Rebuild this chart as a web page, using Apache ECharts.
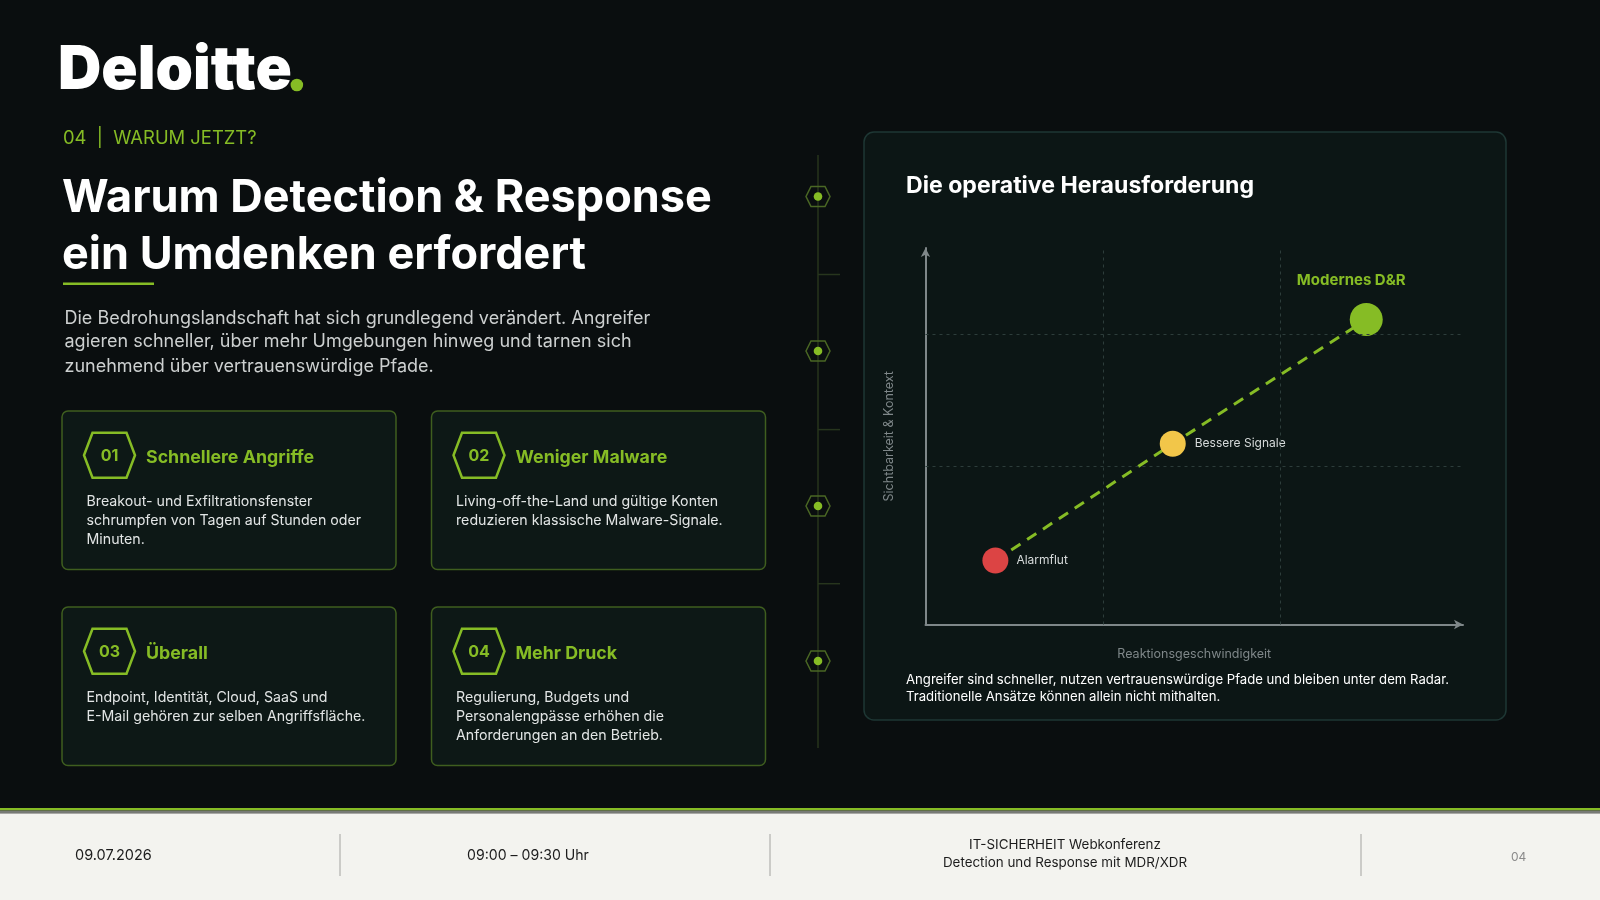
<!DOCTYPE html>
<html><head><meta charset="utf-8">
<script src="https://cdn.jsdelivr.net/npm/echarts@6/dist/echarts.min.js"></script>
<style>html,body{margin:0;padding:0;background:#0a0e0f;}#c{width:1600px;height:900px;}</style>
</head><body><div id="c"></div>
<script>
// ---- chart data ----
const pointNames = ['Alarmflut', 'Bessere Signale', 'Modernes D&R'];
const speedValues = [13, 46, 82];        // Reaktionsgeschwindigkeit (0-100)
const visibilityValues = [17, 48, 81];   // Sichtbarkeit & Kontext (0-100)
const gridXValues = [33, 66];
const gridYValues = [42, 77];
const axisMin = 0;
const axisMax = 100;
const xAxisName = 'Reaktionsgeschwindigkeit';
const yAxisName = 'Sichtbarkeit & Kontext';

// ---- slide texts ----
const sectionLabel = '04  |  WARUM JETZT?';
const titleLines = ['Warum Detection & Response', 'ein Umdenken erfordert'];
const introLines = [
  'Die Bedrohungslandschaft hat sich grundlegend verändert. Angreifer',
  'agieren schneller, über mehr Umgebungen hinweg und tarnen sich',
  'zunehmend über vertrauenswürdige Pfade.'
];
const cardNumbers = ['01', '02', '03', '04'];
const cardTitles = ['Schnellere Angriffe', 'Weniger Malware', 'Überall', 'Mehr Druck'];
const cardTexts = [
  ['Breakout- und Exfiltrationsfenster', 'schrumpfen von Tagen auf Stunden oder', 'Minuten.'],
  ['Living-off-the-Land und gültige Konten', 'reduzieren klassische Malware-Signale.'],
  ['Endpoint, Identität, Cloud, SaaS und', 'E-Mail gehören zur selben Angriffsfläche.'],
  ['Regulierung, Budgets und', 'Personalengpässe erhöhen die', 'Anforderungen an den Betrieb.']
];
const panelTitle = 'Die operative Herausforderung';
const captionLines = [
  'Angreifer sind schneller, nutzen vertrauenswürdige Pfade und bleiben unter dem Radar.',
  'Traditionelle Ansätze können allein nicht mithalten.'
];
const footerDate = '09.07.2026';
const footerTime = '09:00 – 09:30 Uhr';
const footerEventLines = ['IT-SICHERHEIT Webkonferenz', 'Detection und Response mit MDR/XDR'];
const footerPage = '04';

// ---- styles ----
const GREEN = '#86bc25';
const BG = '#0a0e0f';
const FONT = 'Inter';
const pointStyles = [
  { color: '#dc4444', size: 26, label: { position: 'right', distance: 8, color: '#d6dada', fontSize: 12 } },
  { color: '#f2c649', size: 26, label: { position: 'right', distance: 9, color: '#d6dada', fontSize: 12 } },
  { color: GREEN, size: 33, label: { position: 'top', distance: 5, offset: [-15, -10], color: GREEN, fontSize: 15, fontWeight: 'bold' } }
];

function T(text, x, y, size, color, weight, align, extra) {
  return Object.assign({
    type: 'text', x: x, y: y, z: 5,
    style: {
      text: text, fill: color, fontSize: size, fontWeight: weight || 'normal', fontFamily: FONT,
      align: align || 'left', textAlign: align || 'left', verticalAlign: 'middle', textVerticalAlign: 'middle'
    }
  }, extra || {});
}
function hex(cx, cy, hw, hh, inset, stroke, lw) {
  return {
    type: 'polygon', z: 4,
    shape: { points: [[cx - hw, cy], [cx - hw + inset, cy - hh], [cx + hw - inset, cy - hh], [cx + hw, cy], [cx + hw - inset, cy + hh], [cx - hw + inset, cy + hh]] },
    style: { fill: 'none', stroke: stroke, lineWidth: lw }
  };
}

const els = [];
// logo
const mctx = document.createElement('canvas').getContext('2d');
mctx.font = '900 60px ' + FONT;
const logoW = mctx.measureText('Deloitte').width;
els.push(T('Deloitte', 58, 71, 60, '#ffffff', 900));
els.push({ type: 'circle', z: 5, shape: { cx: 58 + logoW + 5, cy: 85, r: 6.3 }, style: { fill: GREEN } });
// section label & title
els.push(T(sectionLabel, 63, 138, 18.4, GREEN, 'normal'));
els.push(T(titleLines[0], 62, 198.5, 45, '#ffffff', 'bold'));
els.push(T(titleLines[1], 62, 255.5, 45, '#ffffff', 'bold'));
els.push({ type: 'rect', z: 4, shape: { x: 63, y: 282.5, width: 91, height: 2.5 }, style: { fill: GREEN } });
introLines.forEach(function (l, i) { els.push(T(l, 64.5, [318.4, 341.8, 366.3][i], 18, '#cdd0d0', 'normal')); });

// cards
const cardPos = [[62, 411], [431.5, 411], [62, 607], [431.5, 607]];
cardPos.forEach(function (p, i) {
  const x = p[0], y = p[1];
  els.push({ type: 'rect', z: 1, shape: { x: x, y: y, width: 334, height: 158.5, r: 6 }, style: { fill: '#0d1816', stroke: '#3f5e1f', lineWidth: 1.5 } });
  els.push(hex(x + 47.5, y + 44.3, 25.5, 22.5, 8.5, GREEN, 2.5));
  els.push(T(cardNumbers[i], x + 47.5, y + 45, 16, GREEN, 'bold', 'center'));
  els.push(T(cardTitles[i], x + 84, y + 46.5, 17.8, GREEN, 'bold'));
  cardTexts[i].forEach(function (l, j) { els.push(T(l, x + 24.5, y + 90.5 + j * 18.9, 14.2, '#e2e5e5', 'normal')); });
});

// timeline
els.push({ type: 'line', z: 2, shape: { x1: 818, y1: 155, x2: 818, y2: 748 }, style: { stroke: '#27351d', lineWidth: 1.5 } });
[274.5, 429.6, 583.7].forEach(function (yy) {
  els.push({ type: 'line', z: 2, shape: { x1: 818, y1: yy, x2: 840, y2: yy }, style: { stroke: '#27351d', lineWidth: 1.5 } });
});
[196.5, 351, 506, 661].forEach(function (yy) {
  els.push(hex(818, yy, 12, 10, 5, '#4a6724', 1.5));
  els.push({ type: 'circle', z: 5, shape: { cx: 818, cy: yy, r: 4.3 }, style: { fill: GREEN } });
});

// chart panel
els.push({ type: 'rect', z: -5, shape: { x: 864, y: 132, width: 642, height: 588, r: 10 }, style: { fill: '#0c1615', stroke: '#1e3734', lineWidth: 1.5 } });
els.push(T(panelTitle, 906, 186, 23.1, '#ffffff', 'bold'));
els.push(T(captionLines[0], 906, 680, 13.15, '#ffffff', 'normal'));
els.push(T(captionLines[1], 906, 697.5, 13.15, '#ffffff', 'normal'));

// footer
els.push({ type: 'rect', z: 3, shape: { x: 0, y: 808, width: 1600, height: 2.6 }, style: { fill: GREEN } });
els.push({ type: 'rect', z: 3, shape: { x: 0, y: 810.6, width: 1600, height: 2.6 }, style: { fill: '#777a75' } });
els.push({ type: 'rect', z: 2, shape: { x: 0, y: 813.2, width: 1600, height: 87 }, style: { fill: '#f3f3ef' } });
[340, 770, 1361].forEach(function (xx) {
  els.push({ type: 'line', z: 4, shape: { x1: xx, y1: 834, x2: xx, y2: 876 }, style: { stroke: '#a3a3a0', lineWidth: 1 } });
});
els.push(T(footerDate, 75, 856, 14.5, '#1c1c1c', 'normal'));
els.push(T(footerTime, 528, 856, 14.1, '#1c1c1c', 'normal', 'center'));
els.push(T(footerEventLines[0], 1065, 845, 13.4, '#1c1c1c', 'normal', 'center'));
els.push(T(footerEventLines[1], 1065, 862.5, 13.4, '#1c1c1c', 'normal', 'center'));
els.push(T(footerPage, 1511, 857, 12, '#8a8a8a', 'normal'));

const axisCommon = {
  type: 'value', min: axisMin, max: axisMax,
  axisLine: { show: true, symbol: ['none', 'arrow'], symbolSize: [7, 9], lineStyle: { color: '#7f8789', width: 2 } },
  axisTick: { show: false }, axisLabel: { show: false }, splitLine: { show: false },
  nameLocation: 'middle',
  nameTextStyle: { color: '#7f8789', fontSize: 12.5, fontFamily: FONT }
};

const chart = echarts.init(document.getElementById('c'), null, { renderer: 'canvas' });
chart.setOption({
  backgroundColor: BG,
  animation: false,
  textStyle: { fontFamily: FONT },
  graphic: { elements: els },
  grid: { left: 925.5, top: 248, right: 137, bottom: 275.5 },
  xAxis: Object.assign({}, axisCommon, { name: xAxisName, nameGap: 23 }),
  yAxis: Object.assign({}, axisCommon, { name: yAxisName, nameGap: 30 }),
  series: [
    {
      type: 'line', silent: true, z: 2, symbol: 'none',
      data: speedValues.map(function (x, i) { return [x, visibilityValues[i]]; }),
      lineStyle: { color: GREEN, width: 3, type: [11, 8] },
      markLine: {
        silent: true, symbol: 'none', label: { show: false },
        lineStyle: { color: '#2d3d3b', type: [3, 4], width: 1 },
        data: gridXValues.map(function (v) { return { xAxis: v }; }).concat(gridYValues.map(function (v) { return { yAxis: v }; }))
      }
    },
    {
      type: 'scatter', z: 3,
      data: pointNames.map(function (n, i) {
        const s = pointStyles[i];
        return {
          name: n, value: [speedValues[i], visibilityValues[i]], symbolSize: s.size,
          itemStyle: { color: s.color, opacity: 1 },
          label: Object.assign({ show: true, formatter: '{b}', fontFamily: FONT }, s.label)
        };
      })
    }
  ]
});
</script>
</body></html>
